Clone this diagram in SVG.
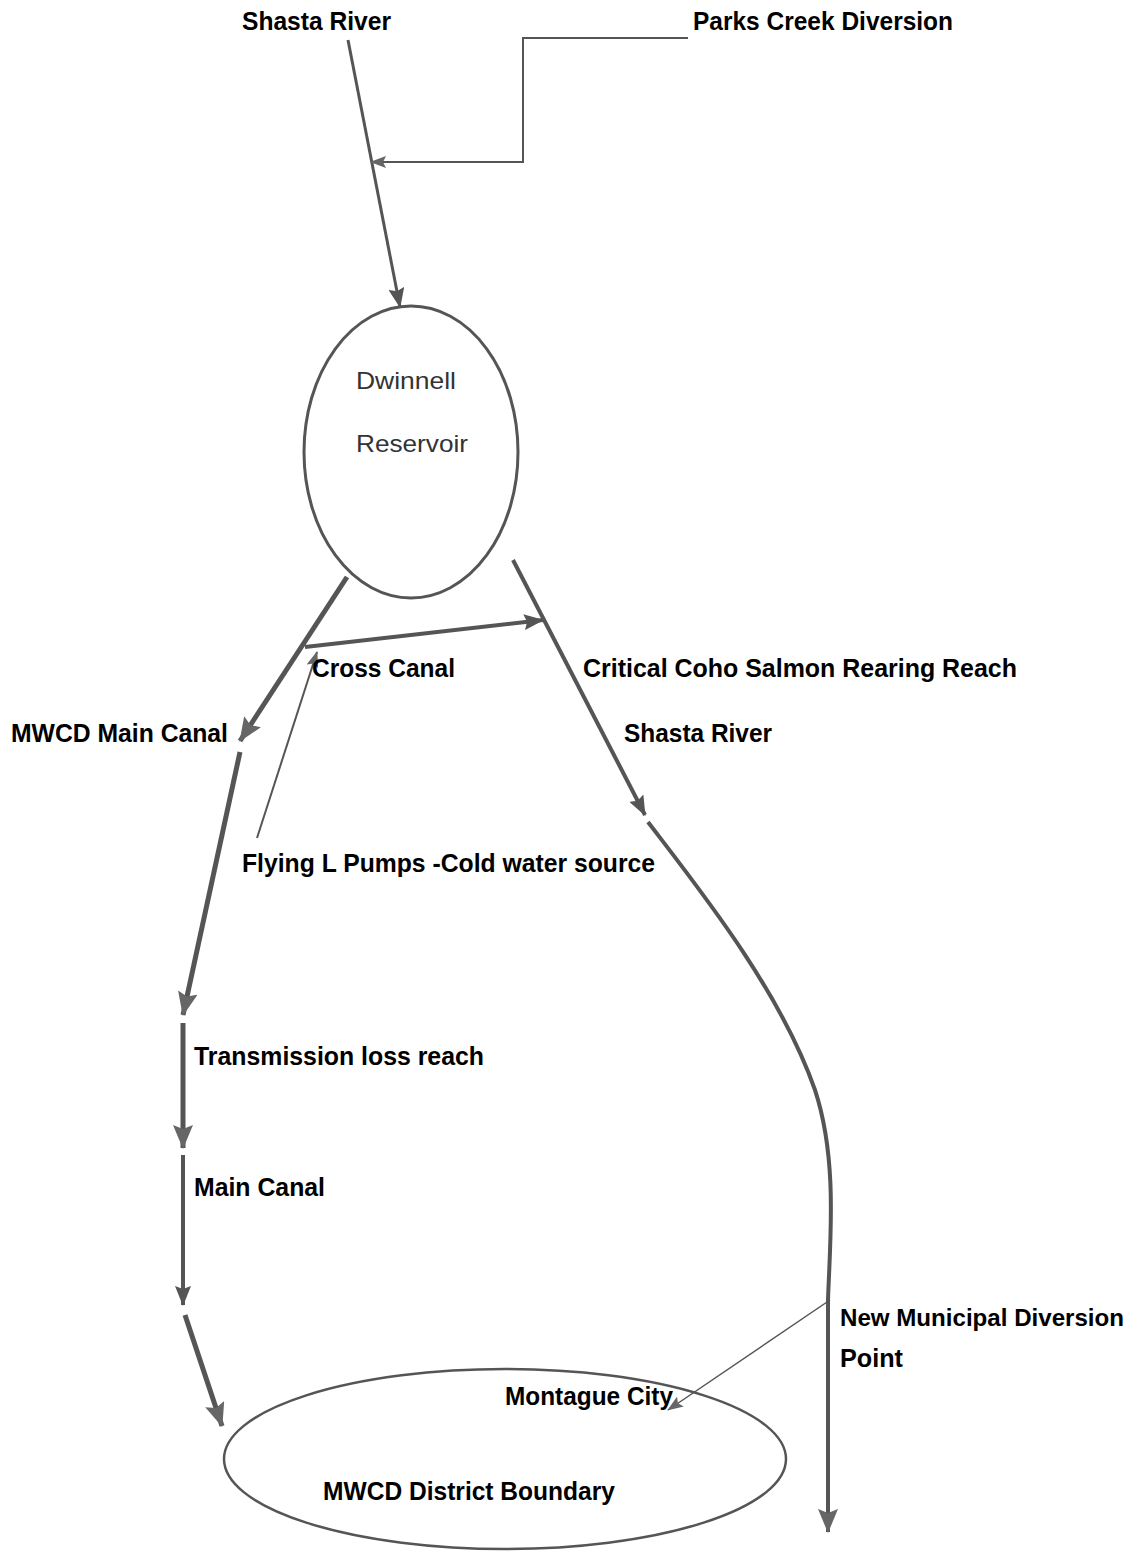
<svg xmlns="http://www.w3.org/2000/svg" width="1138" height="1553" viewBox="0 0 1138 1553">
<style>
.t{font-family:"Liberation Sans",Arial,sans-serif;font-weight:bold;font-size:26px;fill:#000}
.r{font-family:"Liberation Sans",Arial,sans-serif;font-size:24px;fill:#333}
.c{fill:none;stroke:#555;stroke-linecap:butt}
.n{fill:none;stroke:#555}
</style>
<defs>
<marker id="aL" viewBox="0 0 24 20" refX="23" refY="10" markerWidth="24" markerHeight="20" markerUnits="userSpaceOnUse" orient="auto"><path d="M0,0 L24,10 L0,20 L4,10 Z" fill="#666"/></marker>
<marker id="aM" viewBox="0 0 20 16" refX="19" refY="8" markerWidth="20" markerHeight="16" markerUnits="userSpaceOnUse" orient="auto"><path d="M0,0 L20,8 L0,16 L3,8 Z" fill="#555"/></marker>
<marker id="aS" viewBox="0 0 16 12" refX="15" refY="6" markerWidth="16" markerHeight="12" markerUnits="userSpaceOnUse" orient="auto"><path d="M0,0 L16,6 L0,12 L3,6 Z" fill="#666"/></marker>
</defs>
<rect width="1138" height="1553" fill="#fff"/>
<g id="connectors">
<path class="c" d="M348,40 L400,307" stroke-width="3" marker-end="url(#aM)"/>
<path class="n" d="M688,38 L523,38 L523,162 L371,162" stroke-width="2" marker-end="url(#aS)"/>
<path class="c" d="M347,577 L240,741" stroke-width="5" marker-end="url(#aL)"/>
<path class="c" d="M305,647 L543,620" stroke-width="4" marker-end="url(#aM)"/>
<path class="n" d="M257,838 L317,652" stroke-width="2" marker-end="url(#aS)"/>
<path class="c" d="M513,560 L645,815" stroke-width="4" marker-end="url(#aM)"/>
<path class="c" d="M648,822 C700,890 780,990 815,1090 C838,1160 830,1240 828,1300 L828,1532" stroke-width="4" marker-end="url(#aL)"/>
<path class="n" d="M830,1300 L668,1410" stroke-width="1.5" marker-end="url(#aS)"/>
<path class="c" d="M240,752 L183,1015" stroke-width="5" marker-end="url(#aL)"/>
<path class="c" d="M183,1023 L183,1148" stroke-width="5" marker-end="url(#aL)"/>
<path class="c" d="M183,1155 L183,1305" stroke-width="4" marker-end="url(#aM)"/>
<path class="c" d="M185,1315 L222,1426" stroke-width="5" marker-end="url(#aL)"/>
</g>
<g id="shasta-river-top"><text class="t" x="242" y="30" textLength="149" lengthAdjust="spacingAndGlyphs">Shasta River</text></g>
<g id="parks-creek"><text class="t" x="693" y="30" textLength="260" lengthAdjust="spacingAndGlyphs">Parks Creek Diversion</text></g>
<g id="dwinnell">
<ellipse cx="411" cy="452" rx="107" ry="146" fill="none" stroke="#555" stroke-width="3"/>
<text class="r" x="356" y="389" textLength="100" lengthAdjust="spacingAndGlyphs">Dwinnell</text>
<text class="r" x="356" y="452" textLength="112" lengthAdjust="spacingAndGlyphs">Reservoir</text>
</g>
<g id="mwcd-main-canal"><text class="t" x="11" y="742" textLength="217" lengthAdjust="spacingAndGlyphs">MWCD Main Canal</text></g>
<g id="cross-canal"><text class="t" x="312" y="677" textLength="143" lengthAdjust="spacingAndGlyphs">Cross Canal</text></g>
<g id="critical-coho"><text class="t" x="583" y="677" textLength="434" lengthAdjust="spacingAndGlyphs">Critical Coho Salmon Rearing  Reach</text></g>
<g id="shasta-river-mid"><text class="t" x="624" y="742" textLength="148" lengthAdjust="spacingAndGlyphs">Shasta River</text></g>
<g id="flying-l"><text class="t" x="242" y="872" textLength="413" lengthAdjust="spacingAndGlyphs">Flying L Pumps -Cold water source</text></g>
<g id="transmission"><text class="t" x="194" y="1065" textLength="290" lengthAdjust="spacingAndGlyphs">Transmission loss reach</text></g>
<g id="main-canal"><text class="t" x="194" y="1196" textLength="131" lengthAdjust="spacingAndGlyphs">Main Canal</text></g>
<g id="new-municipal">
<text class="t" x="840" y="1326" font-size="24" style="font-size:24px" textLength="284" lengthAdjust="spacingAndGlyphs">New Municipal Diversion</text>
<text class="t" x="840" y="1367" textLength="63" lengthAdjust="spacingAndGlyphs">Point</text>
</g>
<g id="mwcd-district">
<ellipse cx="505" cy="1459" rx="281" ry="90" fill="none" stroke="#555" stroke-width="2.5"/>
<text class="t" x="505" y="1405" textLength="168" lengthAdjust="spacingAndGlyphs">Montague City</text>
<text class="t" x="323" y="1500" textLength="292" lengthAdjust="spacingAndGlyphs">MWCD District Boundary</text>
</g>
</svg>
